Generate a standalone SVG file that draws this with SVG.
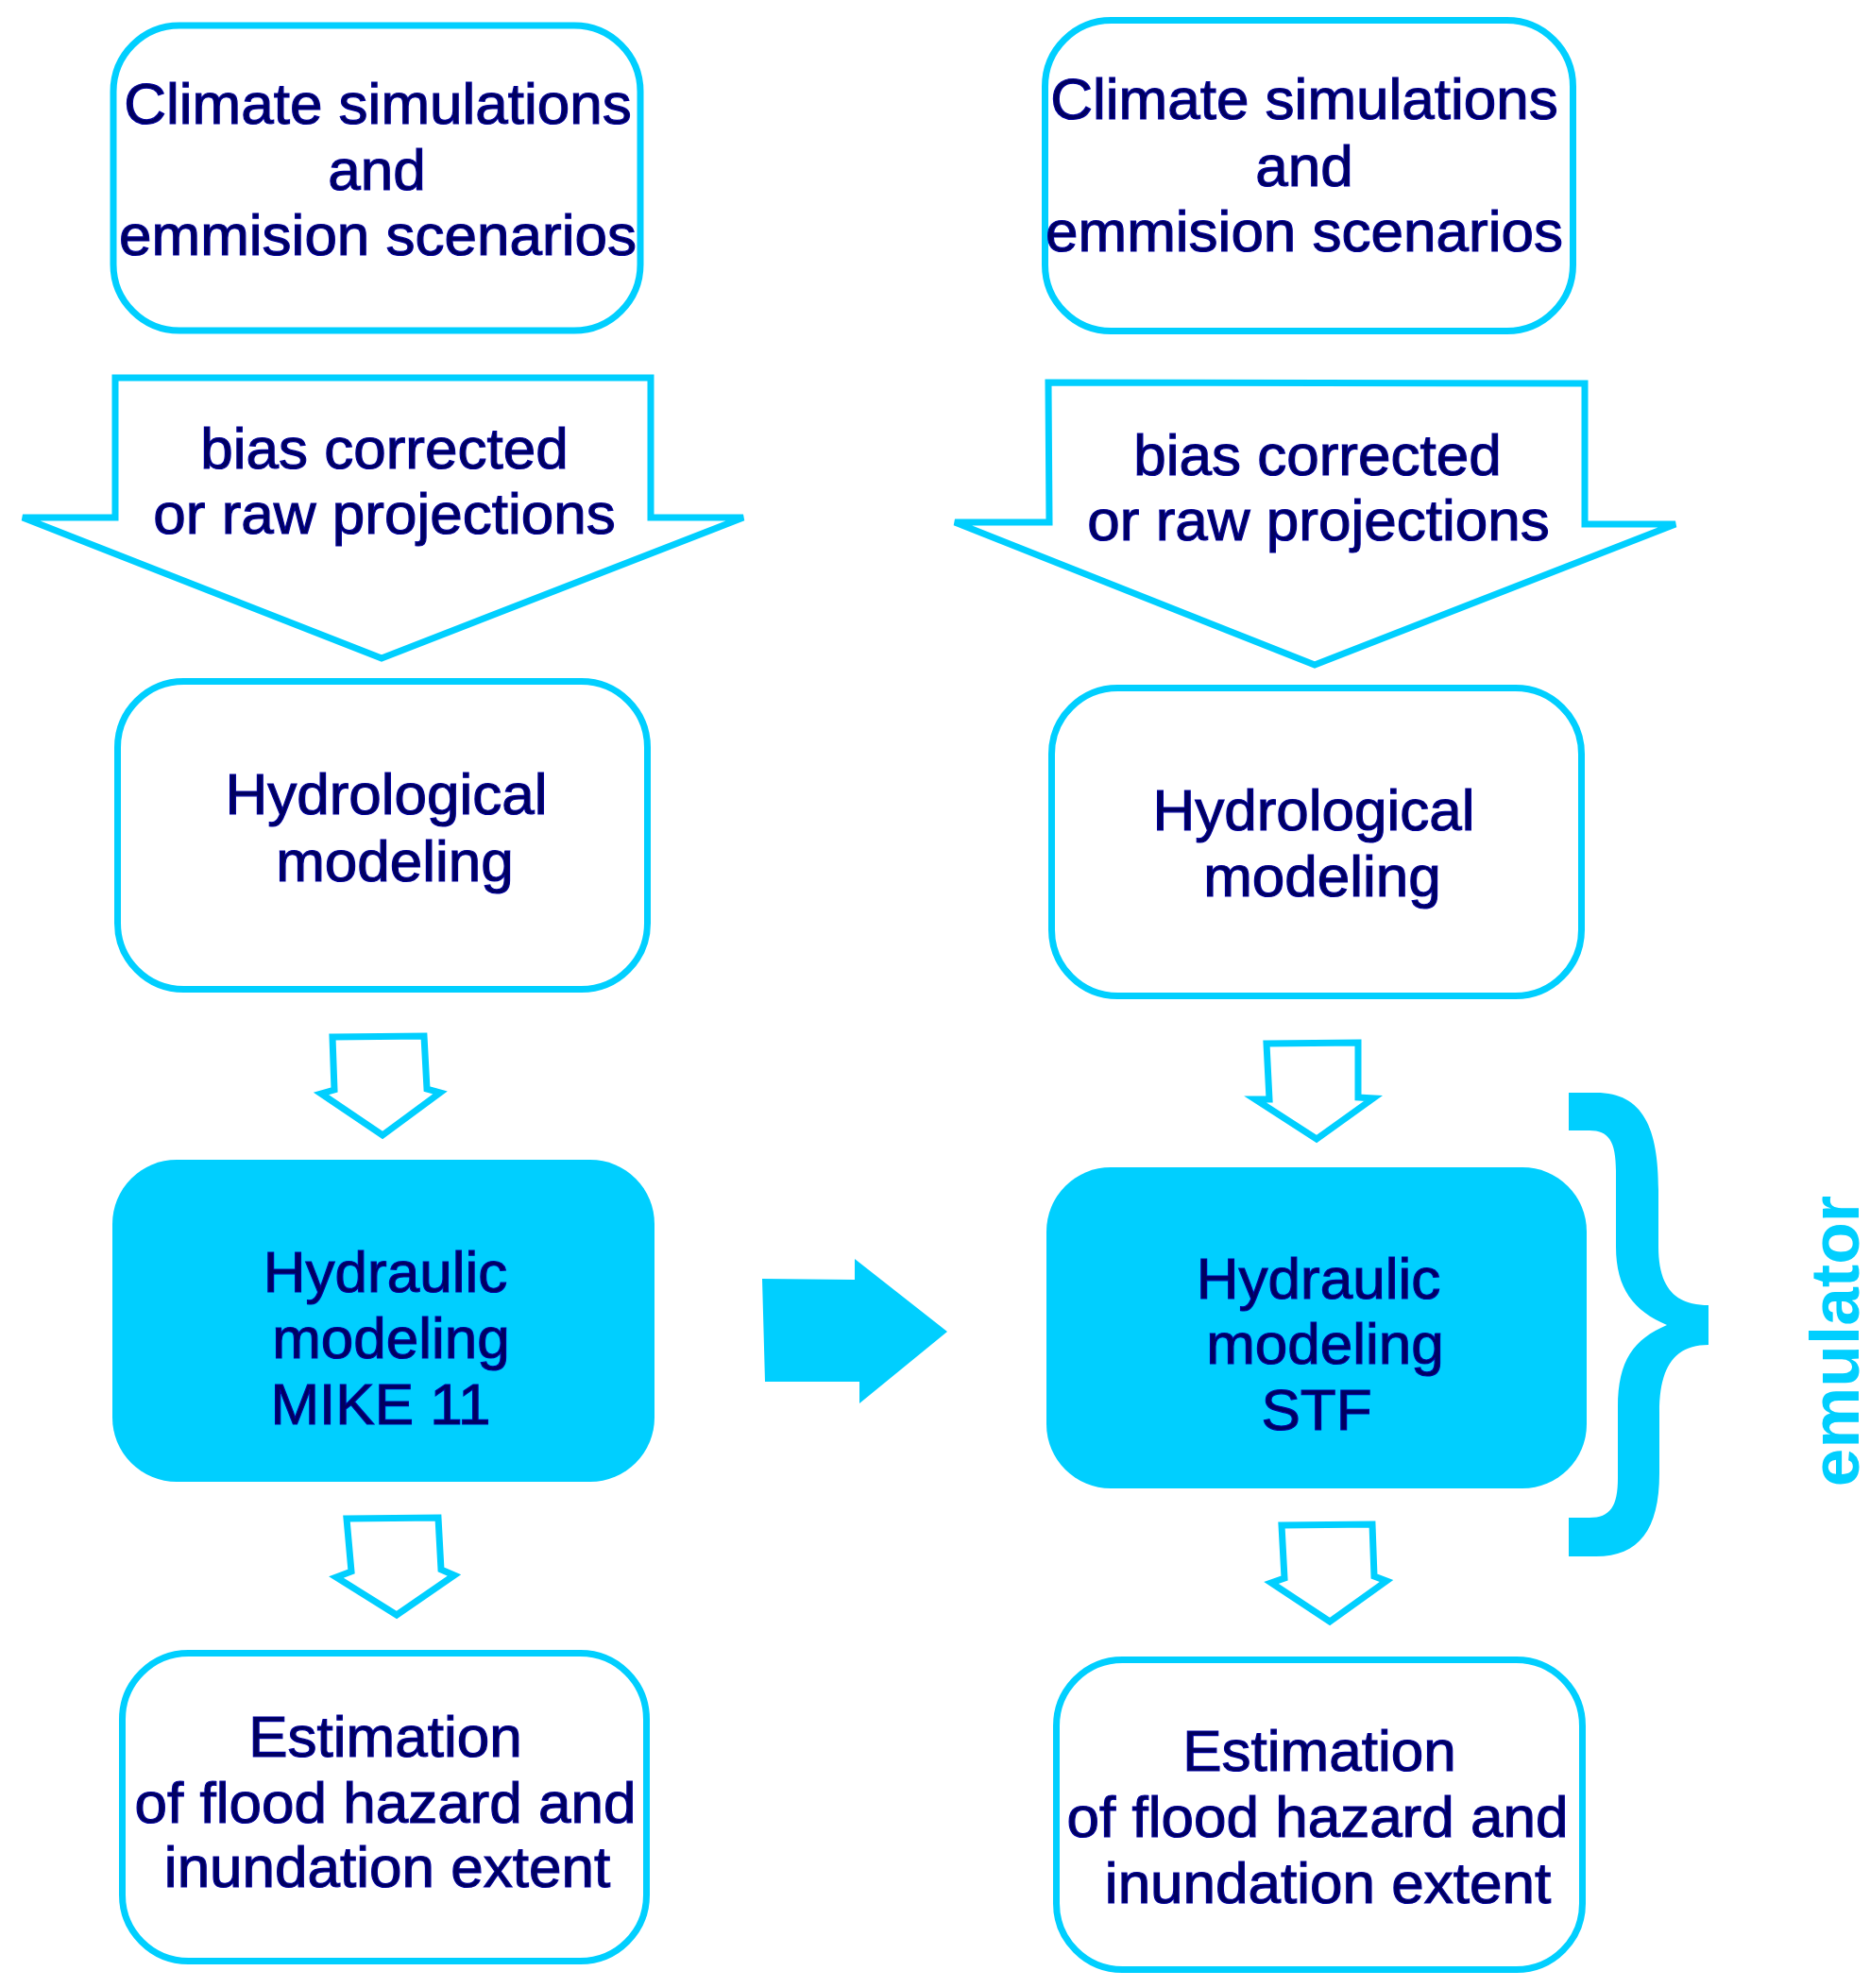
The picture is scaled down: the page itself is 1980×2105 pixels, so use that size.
<svg xmlns="http://www.w3.org/2000/svg" width="1980" height="2105" viewBox="0 0 1980 2105">
<style>
.box{fill:#ffffff;stroke:#00CFFF;stroke-width:7}
.fbox{fill:#00CFFF;stroke:none}
.arr{fill:#ffffff;stroke:#00CFFF;stroke-width:7;stroke-linejoin:miter}
.farr{fill:#00CFFF;stroke:none}
.t{font-family:"Liberation Sans",Arial,sans-serif;font-size:62px;fill:#00005E;stroke:#0000A0;stroke-width:1.2;text-anchor:middle}
.em{font-family:"Liberation Sans",Arial,sans-serif;font-size:73px;font-weight:bold;fill:#00CFFF;text-anchor:middle}
</style>
<rect width="1980" height="2105" fill="#ffffff"/>
<g id="connectors">
<polygon class="arr" points="122,400 689,400 689,548 787,548 404,697 24,548 122,548"/>
<polygon class="arr" points="1110,405 1678,406 1678,555 1774,555 1392,704 1011,553 1111,553"/>
<polygon class="arr" points="352,1098 449,1097 452,1153 466,1157 405,1202 340,1158 354,1154"/>
<polygon class="arr" points="1341,1105 1438,1104 1438,1162 1454,1163 1394,1206 1329,1164 1344,1164"/>
<polygon class="arr" points="367,1608 464,1607 467,1662 481,1668 420,1710 356,1670 372,1664"/>
<polygon class="arr" points="1357,1615 1453,1614 1455,1669 1468,1674 1408,1717 1346,1676 1360,1671"/>
<polygon class="farr" points="807,1354 905,1355 905,1333 1003,1410 910,1486 910,1463 810,1463"/>
</g>
<g id="node-climate-left">
<rect class="box" x="120" y="27" width="558" height="323" rx="70" ry="70"/>
<text class="t" x="400" y="131">Climate simulations</text>
<text class="t" x="399" y="201">and</text>
<text class="t" x="400" y="270">emmision scenarios</text>
</g>
<g id="node-bias-left">
<text class="t" x="407" y="496">bias corrected</text>
<text class="t" x="407" y="565">or raw projections</text>
</g>
<g id="node-hydro-left">
<rect class="box" x="124.5" y="721.5" width="561" height="326" rx="70" ry="70"/>
<text class="t" x="409" y="862">Hydrological</text>
<text class="t" x="418" y="933">modeling</text>
</g>
<g id="node-hydraulic-left">
<rect class="fbox" x="119" y="1228" width="574" height="341" rx="68" ry="68"/>
<text class="t" x="408" y="1368">Hydraulic</text>
<text class="t" x="414" y="1438">modeling</text>
<text class="t" x="403" y="1508">MIKE 11</text>
</g>
<g id="node-estimation-left">
<rect class="box" x="129.5" y="1750.5" width="555" height="326" rx="70" ry="70"/>
<text class="t" x="408" y="1860">Estimation</text>
<text class="t" x="408" y="1930">of flood hazard and</text>
<text class="t" x="410" y="1998">inundation extent</text>
</g>
<g id="node-climate-right">
<rect class="box" x="1106.5" y="21.5" width="559" height="329" rx="70" ry="70"/>
<text class="t" x="1381" y="126">Climate simulations</text>
<text class="t" x="1381" y="197">and</text>
<text class="t" x="1381" y="266">emmision scenarios</text>
</g>
<g id="node-bias-right">
<text class="t" x="1395" y="503">bias corrected</text>
<text class="t" x="1396" y="572">or raw projections</text>
</g>
<g id="node-hydro-right">
<rect class="box" x="1113.5" y="728.5" width="561" height="326" rx="70" ry="70"/>
<text class="t" x="1391" y="879">Hydrological</text>
<text class="t" x="1400" y="949">modeling</text>
</g>
<g id="node-hydraulic-right">
<rect class="fbox" x="1108" y="1236" width="572" height="340" rx="68" ry="68"/>
<text class="t" x="1396" y="1375">Hydraulic</text>
<text class="t" x="1403" y="1444">modeling</text>
<text class="t" x="1394" y="1514">STF</text>
</g>
<g id="node-estimation-right">
<rect class="box" x="1118.5" y="1757.5" width="557" height="328" rx="70" ry="70"/>
<text class="t" x="1397" y="1875">Estimation</text>
<text class="t" x="1395" y="1945">of flood hazard and</text>
<text class="t" x="1406" y="2015">inundation extent</text>
</g>
<g id="node-emulator">
<path class="farr" d="M1661,1157 L1690,1157 C1740,1157 1756,1195 1756,1260 L1756,1320 C1756,1365 1775,1382 1809,1382 L1809,1424 C1775,1424 1757,1445 1757,1495 L1757,1560 C1757,1620 1735,1648 1690,1648 L1661,1648 L1661,1607 L1683,1607 C1705,1607 1713,1595 1713,1565 L1713,1490 C1713,1440 1730,1418 1765,1403 C1730,1388 1711,1365 1711,1320 L1711,1240 C1711,1208 1703,1197 1683,1197 L1661,1197 Z"/>
<text class="em" transform="translate(1968,1420) rotate(-90)" x="0" y="0">emulator</text>
</g>
</svg>
